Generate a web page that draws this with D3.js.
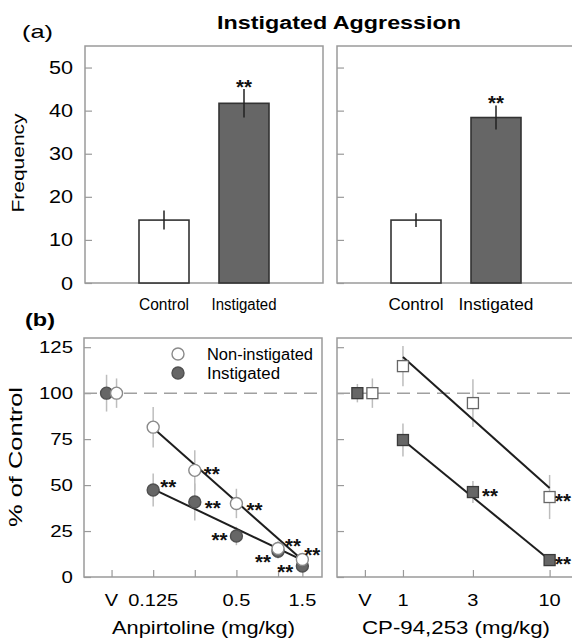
<!DOCTYPE html>
<html><head><meta charset="utf-8">
<script src="https://cdn.jsdelivr.net/npm/d3@7"></script>
<style>body{margin:0;background:#fff}svg{display:block}text{font-family:"Liberation Sans",Arial,sans-serif;fill:#000}</style>
</head><body><svg id="c" width="572" height="640"></svg>
<script>
// ---------- data ----------
const barCategories = ["Control", "Instigated"];
const barLeftValues = [14.6, 41.7];
const barLeftErr = [2.2, 3.3];
const barRightValues = [14.6, 38.4];
const barRightErr = [1.6, 2.8];
const barSig = [false, true];
const freqTicks = [0, 10, 20, 30, 40, 50];

const anpDoses = [0.0625, 0.125, 0.25, 0.5, 1, 1.5];
const anpTickLabels = ["V", "0.125", "", "0.5", "", "1.5"];
const anpNonInst = [100, 81.5, 58, 40, 15.5, 9.5];
const anpNonInstErr = [8, 11, 11, 8, 4, 3];
const anpInst = [100, 47.3, 40.8, 22.3, 14, 6];
const anpInstErr = [10, 9, 10, 5, 4, 3];
const anpNonInstSig = [false, false, true, true, true, true];
const anpInstSig = [false, true, true, true, true, true];
const anpFitDoses = [0.125, 1.5];
const anpNonInstFit = [81, 9.2];
const anpInstFit = [47.8, 9.2];

const cpDoses = [0.55, 1, 3, 10];
const cpTickLabels = ["V", "1", "3", "10"];
const cpNonInst = [100, 114.7, 94.6, 43.5];
const cpNonInstErr = [8, 11, 13, 12];
const cpInst = [100, 74.5, 46.2, 9.2];
const cpInstErr = [5, 9, 6, 3];
const cpNonInstSig = [false, false, false, true];
const cpInstSig = [false, false, true, true];
const cpFitDoses = [1, 10];
const cpNonInstFit = [119.6, 48.4];
const cpInstFit = [74.5, 9.2];

const pctTicks = [0, 25, 50, 75, 100, 125];

// star placement offsets (style), per point index
const anpNonInstStarOff = [null, null, [17, 0], [18, 3], [15, -7], [10, -9]];
const anpInstStarOff = [null, [15, -7], [18, 2], [-17, 0], [-15, 7], [-17, 2]];
const cpNonInstStarOff = [null, null, null, [13.5, 0]];
const cpInstStarOff = [null, null, [17, 0], [13.5, 0]];

// ---------- setup ----------
const svg = d3.select("#c");
const FRAME = "#9a9a9a", DARK = "#666", ERRC = "#bdbdbd";

function stretch(sel, k) {
  sel.each(function () {
    const w = this.getComputedTextLength();
    this.setAttribute("textLength", w * k);
    this.setAttribute("lengthAdjust", "spacingAndGlyphs");
  });
  return sel;
}
function fitW(sel, w) {
  sel.attr("textLength", w).attr("lengthAdjust", "spacingAndGlyphs");
  return sel;
}
function stars(g, x, y) {
  fitW(g.append("text").attr("x", x).attr("y", y + 11).attr("text-anchor", "middle")
    .attr("font-size", 20).attr("font-weight", "bold").style("fill", "#111")
    .text("**"), 16);
}

// title & panel letters
fitW(svg.append("text").attr("x", 339).attr("y", 29).attr("text-anchor", "middle")
  .attr("font-size", 18).attr("font-weight", "bold").text("Instigated Aggression"), 244);
fitW(svg.append("text").attr("x", 22).attr("y", 38).attr("font-size", 19).text("(a)"), 31);
fitW(svg.append("text").attr("x", 25).attr("y", 326).attr("font-size", 18).attr("font-weight", "bold").text("(b)"), 30);

// ---------- top panels ----------
const yTop = d3.scaleLinear().domain([0, 55]).range([283, 46]);
const topPanels = [
  { x0: 85, vals: barLeftValues, errs: barLeftErr, labels: true, lw: [50, 65] },
  { x0: 337, vals: barRightValues, errs: barRightErr, labels: false, lw: [55, 75] }
];
topPanels.forEach(p => {
  const g = svg.append("g");
  const xb = d3.scalePoint().domain(barCategories).range([p.x0 + 79, p.x0 + 159]);
  const bw = 50;
  g.append("rect").attr("x", p.x0).attr("y", yTop(55)).attr("width", 238).attr("height", yTop(0) - yTop(55))
    .attr("fill", "none").attr("stroke", FRAME).attr("stroke-width", 1.5);
  const ax = g.append("g").attr("transform", `translate(${p.x0},0)`)
    .call(d3.axisRight(yTop).tickValues(freqTicks).tickSize(7).tickFormat(""));
  ax.select(".domain").remove();
  ax.selectAll("line").attr("stroke", FRAME).attr("stroke-width", 1.2);
  if (p.labels) {
    freqTicks.forEach(t => {
      stretch(svg.append("text").attr("x", 73).attr("y", yTop(t) + 6.5).attr("text-anchor", "end")
        .attr("font-size", 18).text(t), 1.2);
    });
  }
  barCategories.forEach((c, i) => {
    g.append("rect").attr("x", xb(c) - bw / 2).attr("y", yTop(p.vals[i])).attr("width", bw)
      .attr("height", yTop(0) - yTop(p.vals[i]))
      .attr("fill", i === 0 ? "#fff" : DARK).attr("stroke", "#333").attr("stroke-width", 1.6);
    g.append("line").attr("x1", xb(c)).attr("x2", xb(c))
      .attr("y1", yTop(p.vals[i] - p.errs[i])).attr("y2", yTop(p.vals[i] + p.errs[i]))
      .attr("stroke", "#222").attr("stroke-width", 1.5);
    if (barSig[i]) stars(g, xb(c), yTop(p.vals[i] + p.errs[i]) - 6);
    fitW(g.append("text").attr("x", xb(c)).attr("y", 310).attr("text-anchor", "middle")
      .attr("font-size", 16).text(c), p.lw[i]);
  });
});
fitW(svg.append("text").attr("transform", "translate(24,163) rotate(-90)").attr("text-anchor", "middle")
  .attr("font-size", 17).text("Frequency"), 99);

// ---------- bottom panels ----------
const yBot = d3.scaleLinear().domain([0, 130]).range([577, 338]);
const xAnp = d3.scaleLog().base(2).domain([0.0395, 2.08]).range([84, 322]);
const xCp = d3.scaleLog().domain([0.355, 14.9]).range([337, 575]);

const botPanels = [
  { x: xAnp, x0: 84, doses: anpDoses, tl: anpTickLabels, shape: "circle", vOff: 5,
    open: anpNonInst, openErr: anpNonInstErr, fill: anpInst, fillErr: anpInstErr,
    openSig: anpNonInstSig, fillSig: anpInstSig, openOff: anpNonInstStarOff, fillOff: anpInstStarOff,
    fitD: anpFitDoses, openFit: anpNonInstFit, fillFit: anpInstFit,
    title: "Anpirtoline (mg/kg)", tw: 183, tx: 203.5, labels: true },
  { x: xCp, x0: 337, doses: cpDoses, tl: cpTickLabels, shape: "square", vOff: 7.5,
    open: cpNonInst, openErr: cpNonInstErr, fill: cpInst, fillErr: cpInstErr,
    openSig: cpNonInstSig, fillSig: cpInstSig, openOff: cpNonInstStarOff, fillOff: cpInstStarOff,
    fitD: cpFitDoses, openFit: cpNonInstFit, fillFit: cpInstFit,
    title: "CP-94,253 (mg/kg)", tw: 188, tx: 456, labels: false }
];

botPanels.forEach(p => {
  const g = svg.append("g");
  g.append("rect").attr("x", p.x0).attr("y", yBot(130)).attr("width", 238).attr("height", yBot(0) - yBot(130))
    .attr("fill", "none").attr("stroke", FRAME).attr("stroke-width", 1.5);
  const ay = g.append("g").attr("transform", `translate(${p.x0},0)`)
    .call(d3.axisRight(yBot).tickValues(pctTicks).tickSize(7).tickFormat(""));
  ay.select(".domain").remove();
  ay.selectAll("line").attr("stroke", FRAME).attr("stroke-width", 1.2);
  const axx = g.append("g").attr("transform", `translate(0,${yBot(0)})`)
    .call(d3.axisTop(p.x).tickValues(p.doses).tickSize(7).tickFormat(""));
  axx.select(".domain").remove();
  axx.selectAll("line").attr("stroke", FRAME).attr("stroke-width", 1.2);
  p.doses.forEach((d, i) => {
    if (p.tl[i]) stretch(g.append("text").attr("x", p.x(d)).attr("y", 606).attr("text-anchor", "middle")
      .attr("font-size", 16).text(p.tl[i]), 1.25);
  });
  if (p.labels) {
    pctTicks.forEach(t => {
      stretch(svg.append("text").attr("x", 73).attr("y", yBot(t) + 6).attr("text-anchor", "end")
        .attr("font-size", 17).text(t), 1.2);
    });
  }
  fitW(g.append("text").attr("x", p.tx).attr("y", 634).attr("text-anchor", "middle")
    .attr("font-size", 18).text(p.title), p.tw);

  // dashed 100% line
  g.append("line").attr("x1", p.x0).attr("x2", p.x0 + 238).attr("y1", yBot(100)).attr("y2", yBot(100))
    .attr("stroke", "#a0a0a0").attr("stroke-width", 1.5).attr("stroke-dasharray", "13,7");

  const px = (i, kind) => p.x(p.doses[i]) + (i === 0 ? (kind === "open" ? p.vOff : -p.vOff) : 0);
  // error bars
  ["fill", "open"].forEach(kind => {
    const vals = p[kind], errs = p[kind + "Err"];
    vals.forEach((v, i) => {
      g.append("line").attr("x1", px(i, kind)).attr("x2", px(i, kind))
        .attr("y1", yBot(v - errs[i])).attr("y2", yBot(v + errs[i]))
        .attr("stroke", ERRC).attr("stroke-width", 1.5);
    });
  });
  // fit lines
  ["openFit", "fillFit"].forEach(k => {
    g.append("line").attr("x1", p.x(p.fitD[0])).attr("x2", p.x(p.fitD[1]))
      .attr("y1", yBot(p[k][0])).attr("y2", yBot(p[k][1]))
      .attr("stroke", "#1e1e1e").attr("stroke-width", 2);
  });
  // points
  const drawPt = (cx, cy, kind) => {
    const fillC = kind === "open" ? "#fff" : DARK;
    const strokeC = kind === "open" ? "#8a8a8a" : "#505050";
    if (p.shape === "circle") {
      g.append("circle").attr("cx", cx).attr("cy", cy).attr("r", 6)
        .attr("fill", fillC).attr("stroke", strokeC).attr("stroke-width", 1.4);
    } else {
      g.append("rect").attr("x", cx - 5.5).attr("y", cy - 5.5).attr("width", 11).attr("height", 11)
        .attr("fill", fillC).attr("stroke", kind === "open" ? "#666" : "#3a3a3a").attr("stroke-width", 1.3);
    }
  };
  ["fill", "open"].forEach(kind => {
    p[kind].forEach((v, i) => drawPt(px(i, kind), yBot(v), kind));
  });
  // significance stars
  ["fill", "open"].forEach(kind => {
    p[kind].forEach((v, i) => {
      if (p[kind + "Sig"][i]) {
        const o = p[kind + "Off"][i];
        stars(g, px(i, kind) + o[0], yBot(v) + o[1]);
      }
    });
  });
});

// legend
const lg = svg.append("g");
lg.append("circle").attr("cx", 178).attr("cy", 354).attr("r", 6).attr("fill", "#fff").attr("stroke", "#8a8a8a").attr("stroke-width", 1.4);
lg.append("circle").attr("cx", 178).attr("cy", 373).attr("r", 6).attr("fill", DARK).attr("stroke", "#505050").attr("stroke-width", 1.4);
fitW(lg.append("text").attr("x", 207).attr("y", 360).attr("font-size", 16).text("Non-instigated"), 106);
fitW(lg.append("text").attr("x", 207).attr("y", 379).attr("font-size", 16).text("Instigated"), 73);

fitW(svg.append("text").attr("transform", "translate(22,457) rotate(-90)").attr("text-anchor", "middle")
  .attr("font-size", 19).text("% of Control"), 140);
</script></body></html>
